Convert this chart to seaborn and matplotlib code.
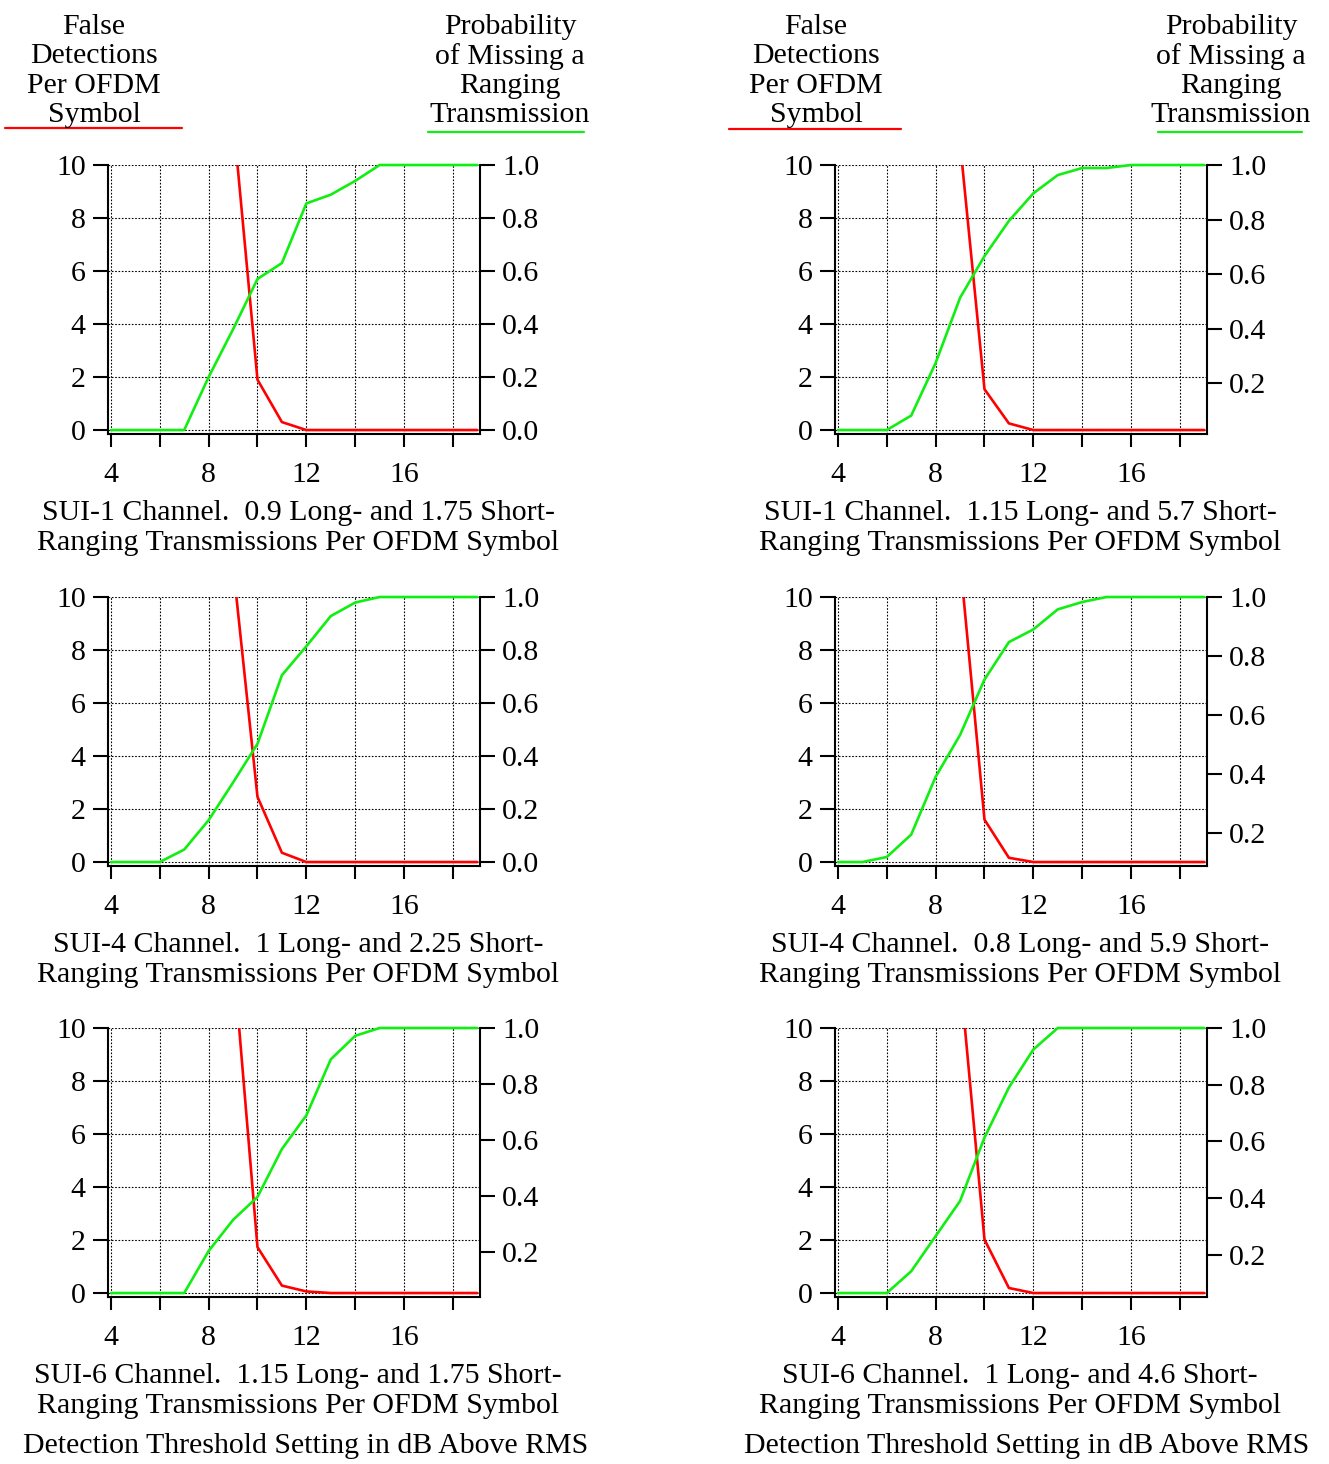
import matplotlib
matplotlib.use('Agg')
import matplotlib.pyplot as plt
from matplotlib.lines import Line2D
import numpy as np
import pandas as pd
import seaborn as sns

# detection threshold in dB above RMS
thr = [4, 5, 6, 7, 8, 9, 10, 11, 12, 13, 14, 15, 16, 17, 18, 19]
thr_red = [9, 10, 11, 12, 13, 14, 15, 16, 17, 18, 19]

# false detections per OFDM symbol (red, left axis)
red_sui1_a = [11.8, 1.9, 0.3, 0, 0, 0, 0, 0, 0, 0, 0]
red_sui1_b = [10.84, 1.54, 0.25, 0, 0, 0, 0, 0, 0, 0, 0]
red_sui4_a = [11.2, 2.46, 0.35, 0, 0, 0, 0, 0, 0, 0, 0]
red_sui4_b = [11.4, 1.6, 0.16, 0, 0, 0, 0, 0, 0, 0, 0]
red_sui6_a = [12.75, 1.73, 0.28, 0.06, 0, 0, 0, 0, 0, 0, 0]
red_sui6_b = [12.0, 2.02, 0.19, 0, 0, 0, 0, 0, 0, 0, 0]

# probability of missing a ranging transmission (green, right axis)
grn_sui1_a = [0, 0, 0, 0, 0.2, 0.38, 0.57, 0.63, 0.855, 0.888, 0.94, 1, 1, 1, 1, 1]
grn_sui1_b = [0.028, 0.028, 0.028, 0.081, 0.274, 0.513, 0.666, 0.795, 0.896, 0.963, 0.989, 0.989, 1, 1, 1, 1]
grn_sui4_a = [0, 0, 0, 0.047, 0.158, 0.30, 0.446, 0.705, 0.814, 0.928, 0.979, 1, 1, 1, 1, 1]
grn_sui4_b = [0.101, 0.101, 0.118, 0.194, 0.39, 0.532, 0.72, 0.847, 0.89, 0.958, 0.983, 1, 1, 1, 1, 1]
grn_sui6_a = [0.054, 0.054, 0.054, 0.054, 0.204, 0.315, 0.397, 0.568, 0.688, 0.888, 0.972, 1, 1, 1, 1, 1]
grn_sui6_b = [0.064, 0.064, 0.064, 0.141, 0.265, 0.389, 0.613, 0.79, 0.924, 1, 1, 1, 1, 1, 1, 1]

# lowest value of the right axis scale (sits on the left-axis 0 line)
p_floor = [0, 0.028, 0, 0.101, 0.054, 0.064]

captions = [
    "SUI-1 Channel.  0.9 Long- and 1.75 Short-\nRanging Transmissions Per OFDM Symbol",
    "SUI-1 Channel.  1.15 Long- and 5.7 Short-\nRanging Transmissions Per OFDM Symbol",
    "SUI-4 Channel.  1 Long- and 2.25 Short-\nRanging Transmissions Per OFDM Symbol",
    "SUI-4 Channel.  0.8 Long- and 5.9 Short-\nRanging Transmissions Per OFDM Symbol",
    "SUI-6 Channel.  1.15 Long- and 1.75 Short-\nRanging Transmissions Per OFDM Symbol",
    "SUI-6 Channel.  1 Long- and 4.6 Short-\nRanging Transmissions Per OFDM Symbol",
]
left_title = "False\nDetections\nPer OFDM\nSymbol"
right_title = "Probability\nof Missing a\nRanging\nTransmission"
x_title = "Detection Threshold Setting in dB Above RMS"

reds = [red_sui1_a, red_sui1_b, red_sui4_a, red_sui4_b, red_sui6_a, red_sui6_b]
greens = [grn_sui1_a, grn_sui1_b, grn_sui4_a, grn_sui4_b, grn_sui6_a, grn_sui6_b]

sns.set_theme(style="ticks")
plt.rcParams['font.family'] = ['Liberation Serif', 'DejaVu Serif']
plt.rcParams['text.color'] = 'black'
plt.rcParams['xtick.color'] = 'black'
plt.rcParams['ytick.color'] = 'black'
plt.rcParams['axes.labelcolor'] = 'black'

W, H = 1329, 1464
fig = plt.figure(figsize=(W / 100, H / 100), dpi=100)


def fx(px):
    return px / W


def fy(py):
    return 1 - py / H


col_left = [108, 835]
cap_off = [190, 185]
col_w = 372
row_top = [165, 597, 1028]
row_h = 269
FS = 21.5
LS = 1.16
RED = '#ff0000'
GRN = '#11ee11'

for i in range(6):
    r, c = i // 2, i % 2
    x0 = col_left[c]
    y0 = row_top[r]
    ax = fig.add_axes([fx(x0), fy(y0 + row_h), col_w / W, row_h / H])
    df_r = pd.DataFrame({'thr': thr_red, 'val': reds[i]})
    df_g = pd.DataFrame({'thr': thr, 'val': greens[i]})
    sns.lineplot(data=df_r, x='thr', y='val', ax=ax, color=RED, linewidth=1.9)
    ax.set_xlim(3.88, 19.11)
    ax.set_ylim(-0.15, 10)
    ax.set_xticks(np.arange(4, 19, 2))
    ax.set_xticklabels([str(t) if t % 4 == 0 else '' for t in range(4, 19, 2)])
    ax.set_yticks(np.arange(0, 11, 2))
    ax.set_yticklabels([str(t) for t in range(0, 11, 2)])
    ax.set_xlabel('')
    ax.set_ylabel('')
    ax.grid(True, linestyle=(0, (1.5, 1.5)), color='black', linewidth=0.8)
    ax.tick_params(axis='y', direction='out', length=11, width=1.5, pad=5, labelsize=FS)
    ax.tick_params(axis='x', direction='out', length=9.5, width=1.5, pad=11, labelsize=FS)
    for s in ['top', 'right']:
        ax.spines[s].set_visible(False)
    for s in ['left', 'bottom']:
        ax.spines[s].set_linewidth(1.5)
        ax.spines[s].set_color('black')

    ax2 = ax.twinx()
    sns.lineplot(data=df_g, x='thr', y='val', ax=ax2, color=GRN, linewidth=1.9)
    pf = p_floor[i]
    ax2.set_ylim(pf + (-0.15 / 10) * (1 - pf), 1.0)
    rt = [t for t in [0.0, 0.2, 0.4, 0.6, 0.8, 1.0] if t >= ax2.get_ylim()[0]]
    ax2.set_yticks(rt)
    ax2.set_yticklabels(['%.1f' % t for t in rt])
    ax2.set_ylabel('')
    ax2.grid(False)
    ax2.tick_params(axis='y', direction='out', length=11, width=1.5, pad=5, labelsize=FS)
    for s in ['top', 'left', 'bottom']:
        ax2.spines[s].set_visible(False)
    ax2.spines['right'].set_linewidth(1.5)
    ax2.spines['right'].set_color('black')
    for ln in ax2.get_lines():
        ln.set_clip_on(False)

    cx = x0 + cap_off[c]
    fig.text(fx(cx), fy(row_top[r] + 363), captions[i], ha='center', va='center',
             fontsize=FS, linespacing=LS)

# column headers
head_cx = [(94, 510), (816, 1231)]
for c in range(2):
    lx, rx = head_cx[c]
    fig.text(fx(lx), fy(71), left_title, ha='center', va='center', fontsize=FS, linespacing=LS)
    fig.text(fx(rx), fy(71), right_title, ha='center', va='center', fontsize=FS, linespacing=LS)

fig.add_artist(Line2D([fx(5), fx(182)], [fy(128), fy(128)], color=RED, linewidth=1.6))
fig.add_artist(Line2D([fx(428), fx(584)], [fy(132), fy(132)], color=GRN, linewidth=1.6))
fig.add_artist(Line2D([fx(729), fx(901)], [fy(129), fy(129)], color=RED, linewidth=1.6))
fig.add_artist(Line2D([fx(1158), fx(1302)], [fy(132), fy(132)], color=GRN, linewidth=1.6))

fig.text(fx(306), fy(1446), x_title, ha='center', va='center', fontsize=FS)
fig.text(fx(1027), fy(1446), x_title, ha='center', va='center', fontsize=FS)

fig.savefig('out.png', dpi=100, facecolor='white')
